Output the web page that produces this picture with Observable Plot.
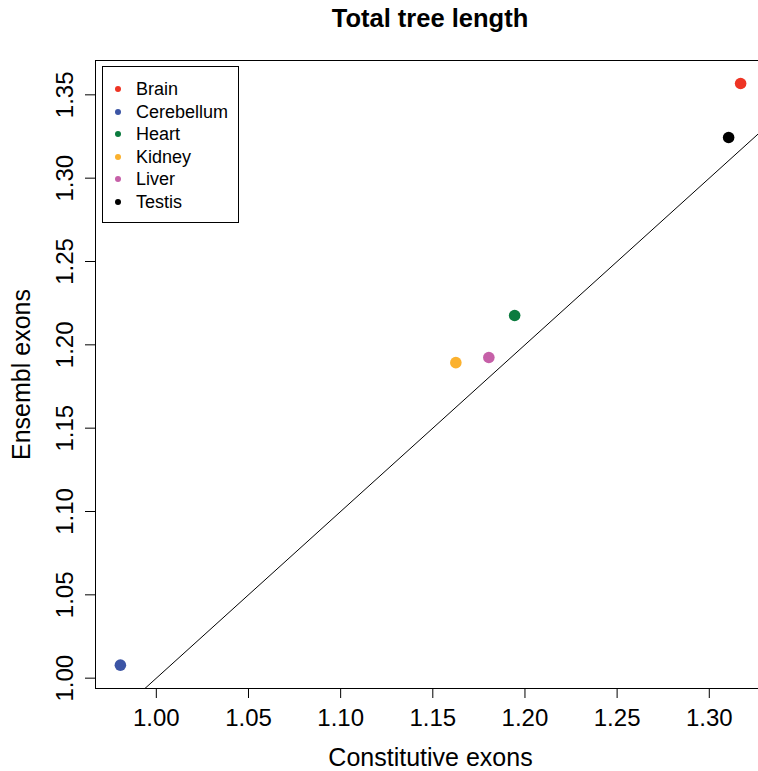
<!DOCTYPE html>
<html>
<head>
<meta charset="utf-8">
<script src="https://cdn.jsdelivr.net/npm/d3@7"></script>
<script src="https://cdn.jsdelivr.net/npm/@observablehq/plot@0.6"></script>
<style>
html, body { margin: 0; padding: 0; background: #fff; overflow: hidden; }
#wrap { position: relative; width: 758px; height: 771px; overflow: hidden; font-family: "Liberation Sans", Arial, Helvetica, sans-serif; color: #000; }
#chart { width: 770px; }
#chart svg { max-width: none !important; display: block; }
#title { position: absolute; left: 95px; width: 670px; top: 4px; text-align: center; font-weight: bold; font-size: 25.5px; line-height: 28px; }
#legend { position: absolute; left: 102px; top: 66px; width: 135px; height: 144px; border: 1px solid #000; background: #fff; padding-top: 11px; box-sizing: content-box; }
#legend .row { position: relative; height: 22.5px; line-height: 22.5px; font-size: 18px; }
#legend .dot { position: absolute; left: 12px; top: 8.25px; width: 6px; height: 6px; border-radius: 50%; }
#legend .lab { position: absolute; left: 33px; top: 0; white-space: nowrap; }
</style>
</head>
<body>
<div id="wrap">
  <div id="chart"></div>
  <div id="title"></div>
  <div id="legend"></div>
</div>
<script>
const titleText = "Total tree length";
const xLabel = "Constitutive exons";
const yLabel = "Ensembl exons";
const tissues = ["Brain", "Cerebellum", "Heart", "Kidney", "Liver", "Testis"];
const constitutive = [1.317, 0.9805, 1.1944, 1.1625, 1.1804, 1.3105];
const ensembl = [1.3568, 1.0078, 1.2176, 1.1893, 1.1924, 1.3244];
const colors = ["#EE3424", "#3C55A5", "#0B7B3E", "#FBB12E", "#C660A8", "#000000"];
const xTicks = [1.00, 1.05, 1.10, 1.15, 1.20, 1.25, 1.30];
const yTicks = [1.00, 1.05, 1.10, 1.15, 1.20, 1.25, 1.30, 1.35];
const xDomain = [0.967, 1.3305];
const yDomain = [0.9938, 1.3706];

const data = tissues.map((t, i) => ({tissue: t, x: constitutive[i], y: ensembl[i]}));
const diag = xDomain.slice();
const fmt = d3.format(".2f");

const chart = Plot.plot({
  width: 770,
  height: 771,
  marginLeft: 95,
  marginRight: 5,
  marginTop: 60,
  marginBottom: 83,
  style: {fontFamily: '"Liberation Sans", Arial, Helvetica, sans-serif', fontSize: "24px", color: "#000", background: "#fff", maxWidth: "none"},
  x: {domain: xDomain},
  y: {domain: yDomain},
  color: {domain: tissues, range: colors},
  marks: [
    Plot.line(diag, {x: d => d, y: d => d, stroke: "#000", strokeWidth: 1, clip: true}),
    Plot.dot(data, {x: "x", y: "y", fill: "tissue", r: 5.8}),
    Plot.frame({stroke: "#000", strokeWidth: 1}),
    Plot.axisX(xTicks, {tickSize: 10, tickPadding: 10, tickFormat: fmt, fontSize: 24, label: null}),
    Plot.axisX({fontSize: 25, ticks: [], label: xLabel, labelAnchor: "center", labelOffset: 77, labelArrow: "none"}),
    Plot.axisY(yTicks, {tickSize: 10, tickPadding: 13, tickRotate: -90, tickFormat: fmt, fontSize: 24, label: null}),
    Plot.axisY({fontSize: 25, ticks: [], label: yLabel, labelAnchor: "center", labelOffset: 83, labelArrow: "none"})
  ]
});
chart.style.maxWidth = "none";
document.getElementById("chart").appendChild(chart);
document.getElementById("title").textContent = titleText;

const legend = document.getElementById("legend");
tissues.forEach((t, i) => {
  const row = document.createElement("div");
  row.className = "row";
  const dot = document.createElement("span");
  dot.className = "dot";
  dot.style.background = colors[i];
  const lab = document.createElement("span");
  lab.className = "lab";
  lab.textContent = t;
  row.appendChild(dot);
  row.appendChild(lab);
  legend.appendChild(row);
});
</script>
</body>
</html>
